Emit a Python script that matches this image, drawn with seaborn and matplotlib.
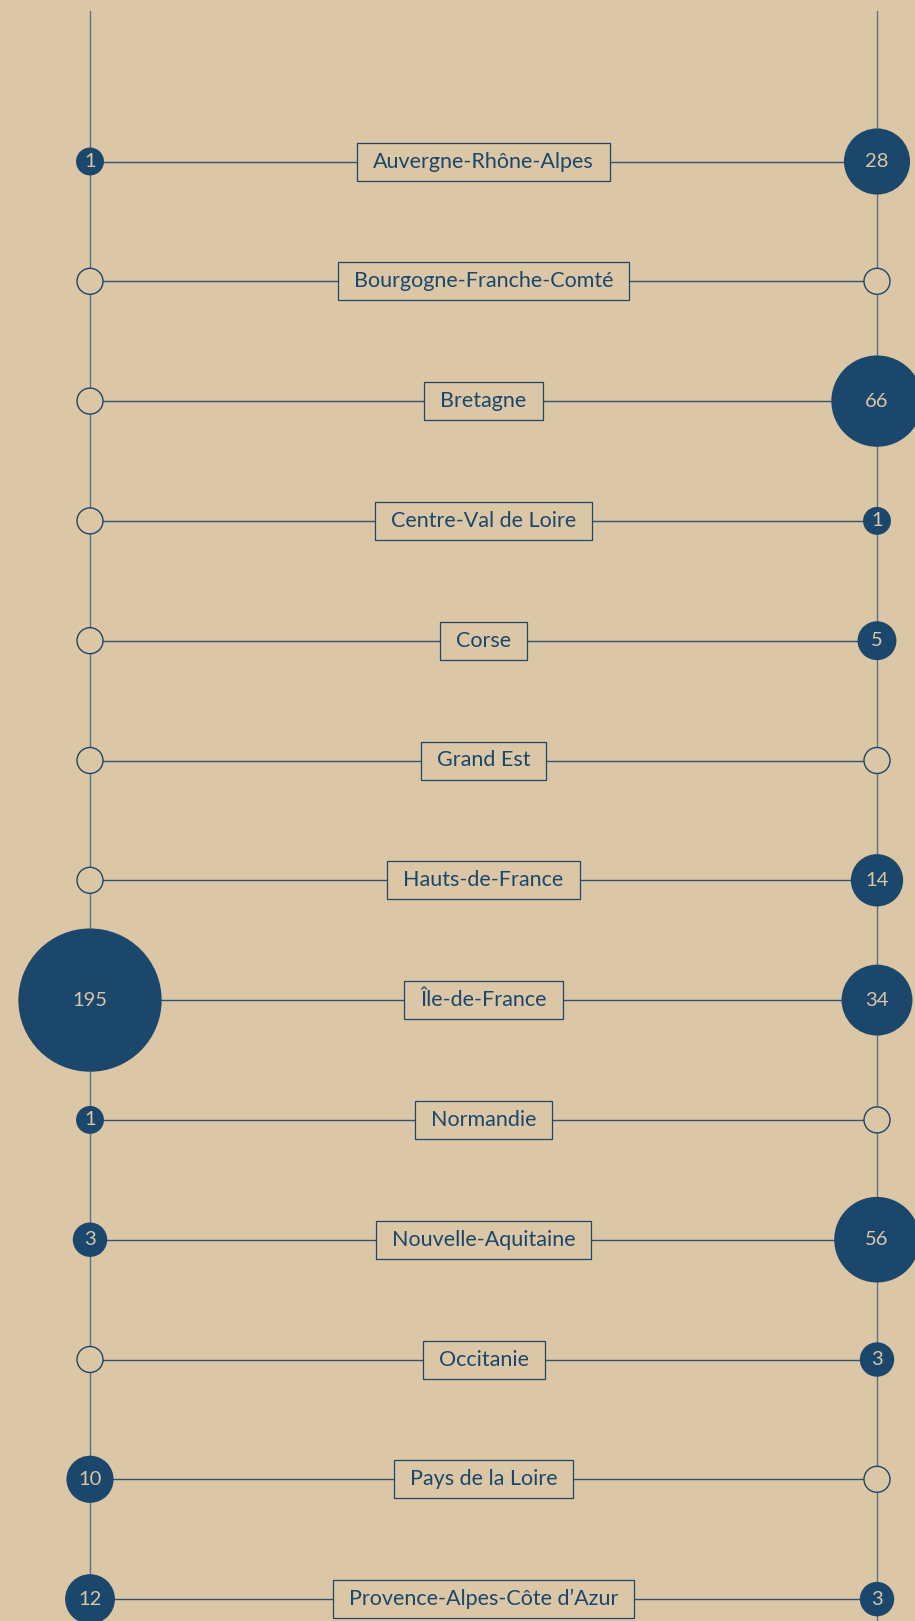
import numpy as np
import pandas as pd
import matplotlib
matplotlib.use("Agg")
import matplotlib.pyplot as plt
from matplotlib.patches import Rectangle
import seaborn as sns

# ---- data ----
regions = [
    "Auvergne-Rhône-Alpes", "Bourgogne-Franche-Comté", "Bretagne",
    "Centre-Val de Loire", "Corse", "Grand Est", "Hauts-de-France",
    "Île-de-France", "Normandie", "Nouvelle-Aquitaine", "Occitanie",
    "Pays de la Loire", "Provence-Alpes-Côte d’Azur",
]
left_values = [1, 0, 0, 0, 0, 0, 0, 195, 1, 3, 0, 10, 12]
right_values = [28, 0, 66, 1, 5, 0, 14, 34, 0, 56, 3, 0, 3]

# ---- style ----
BG = "#dbc6a5"
BLUE = "#1b476c"
VLINE = "#5d7286"
HLINE = "#2f5373"
W, H, DPI = 915, 1621, 100

sns.set_theme(style="white")
plt.rcParams["font.family"] = ["Lato", "DejaVu Sans"]

fig = plt.figure(figsize=(W / DPI, H / DPI), dpi=DPI, facecolor=BG)
ax = fig.add_axes([0, 0, 1, 1])
ax.set_facecolor(BG)

# pixel geometry -> data coordinates
x_left_px, x_right_px = 90, 877
row0_px, row_step_px = 161.5, 119.8
xpu = x_right_px - x_left_px
XLIM = (-x_left_px / xpu, 1 + (W - x_right_px) / xpu)
YLIM = ((H - row0_px) / row_step_px, -row0_px / row_step_px)
ax.set_xlim(*XLIM)
ax.set_ylim(*YLIM)
ax.axis("off")

n = len(regions)
rows = np.arange(n)

# long-form frame
df = pd.DataFrame({
    "region": regions * 2,
    "row": list(rows) * 2,
    "side": [0.0] * n + [1.0] * n,
    "value": left_values + right_values,
})

def radius_px(v):
    return np.where(v > 0, 9.5 + 4.45 * np.sqrt(v), 13.0)

df["r"] = radius_px(df["value"].to_numpy(dtype=float))
df["s"] = (2 * df["r"] * 72 / DPI) ** 2

# vertical axes lines
top = (11 - row0_px) / row_step_px
bottom = (H - row0_px) / row_step_px + 1
for xv in (0, 1):
    ax.plot([xv, xv], [top, bottom], color=VLINE, lw=1.0, zorder=1)

# horizontal connectors
for r in rows:
    ax.plot([0, 1], [r, r], color=HLINE, lw=1.0, zorder=1)

filled = df[df["value"] > 0]
empty = df[df["value"] == 0]
sns.scatterplot(data=filled, x="side", y="row", s=filled["s"].to_numpy(),
                color=BLUE, linewidth=0, ax=ax, legend=False, zorder=3)
sns.scatterplot(data=empty, x="side", y="row", s=empty["s"].to_numpy(),
                facecolor=BG, edgecolor=BLUE, linewidth=1.0, ax=ax,
                legend=False, zorder=3)
ax.set_xlim(*XLIM)
ax.set_ylim(*YLIM)
ax.axis("off")

for _, rw in filled.iterrows():
    ax.text(rw["side"], rw["row"], f"{int(rw['value'])}", ha="center",
            va="center", color=BG, fontsize=14.5, zorder=4)

# labels with boxes
texts = []
for r, name in zip(rows, regions):
    t = ax.text(0.5, r, name, ha="center", va="center", color=BLUE,
                fontsize=15.5, zorder=6)
    texts.append(t)

fig.canvas.draw()
renderer = fig.canvas.get_renderer()
inv = ax.transData.inverted()
pad_x = 16
box_h = 38
for r, t in zip(rows, texts):
    bb = t.get_window_extent(renderer)
    _, yc = ax.transData.transform((0.5, r))
    x0, x1 = bb.x0 - pad_x, bb.x1 + pad_x
    (dx0, dy0) = inv.transform((x0, yc - box_h / 2))
    (dx1, dy1) = inv.transform((x1, yc + box_h / 2))
    rect = Rectangle((dx0, min(dy0, dy1)), dx1 - dx0, abs(dy1 - dy0),
                     facecolor=BG, edgecolor=BLUE, linewidth=0.9, zorder=5)
    ax.add_patch(rect)

fig.savefig("out.png", dpi=DPI, facecolor=BG)
